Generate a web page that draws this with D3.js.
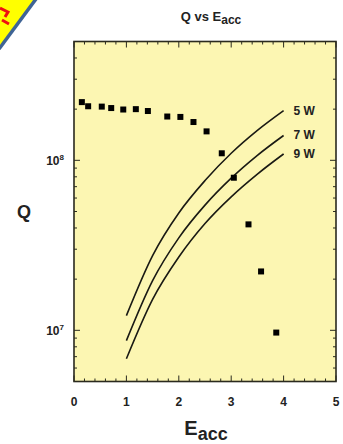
<!DOCTYPE html>
<html><head><meta charset="utf-8">
<script src="https://cdn.jsdelivr.net/npm/d3@7"></script>
<style>html,body{margin:0;padding:0;background:#fff;}svg{display:block;}</style>
</head><body>
<svg id="c" width="343" height="444"></svg>
<script>
// Measured Q vs Eacc
const eacc = [0.15,0.27,0.53,0.71,0.94,1.18,1.41,1.78,2.03,2.28,2.53,2.82,3.05,3.33,3.57,3.86];
const qMeas = [2.2e8,2.08e8,2.07e8,2.03e8,1.99e8,2.0e8,1.95e8,1.81e8,1.80e8,1.68e8,1.48e8,1.10e8,7.9e7,4.2e7,2.22e7,9.7e6];
// Power-limit curves
const curveE = [1,1.5,2,2.5,3,3.5,4];
const q5W = [1.22e7,2.75e7,4.9e7,7.6e7,1.1e8,1.5e8,1.96e8];
const q7W = [8.7e6,1.96e7,3.5e7,5.45e7,7.85e7,1.07e8,1.4e8];
const q9W = [6.8e6,1.52e7,2.7e7,4.25e7,6.1e7,8.3e7,1.09e8];
const curveNames = ["5 W","7 W","9 W"];
const xTicks = [0,1,2,3,4,5];
const yTicks = [1e7,1e8];
const yTickLabels = [["10","7"],["10","8"]];

const svg = d3.select("#c");
const L=74,R=336,T=41.5,B=381.5;
const x = d3.scaleLinear().domain([0,5]).range([L,R]);
const y = d3.scaleLog().domain([5e6,5e8]).range([B,T]);

// corner badge (decorative)
svg.append("polygon").attr("points","0,0 35,0 0,48").attr("fill","#ffff00");
svg.append("path").attr("d","M0,8 L8,12 L5,17 M2,20 L9,24").attr("fill","none").attr("stroke","#ee1111").attr("stroke-width",3);
svg.append("line").attr("x1",36).attr("y1",-1).attr("x2",-1).attr("y2",49).attr("stroke","#3f6495").attr("stroke-width",3.5);

// plot bg
svg.append("rect").attr("x",L).attr("y",T).attr("width",R-L).attr("height",B-T).attr("fill","#fcf6b2");

const tc="#2a2a1e";
// x ticks
const xMinor = d3.range(0,5.001,0.2);
xMinor.forEach(v=>{
  const major = Math.abs(v-Math.round(v))<1e-6;
  const len = major?6:3;
  svg.append("line").attr("x1",x(v)).attr("x2",x(v)).attr("y1",B).attr("y2",B-len).attr("stroke",tc).attr("stroke-width",1);
  svg.append("line").attr("x1",x(v)).attr("x2",x(v)).attr("y1",T).attr("y2",T+len).attr("stroke",tc).attr("stroke-width",1);
});
// y ticks
const yMinor=[];
[1e6,1e7,1e8].forEach(d=>{for(let k=1;k<=9;k++){const v=k*d; if(v>=5e6&&v<=5e8) yMinor.push(v);}});
yMinor.forEach(v=>{
  const major = yTicks.includes(v);
  const len = major?6:3;
  svg.append("line").attr("x1",L).attr("x2",L+len).attr("y1",y(v)).attr("y2",y(v)).attr("stroke",tc).attr("stroke-width",1);
  svg.append("line").attr("x1",R).attr("x2",R-len).attr("y1",y(v)).attr("y2",y(v)).attr("stroke",tc).attr("stroke-width",1);
});
// frame
svg.append("rect").attr("x",L).attr("y",T).attr("width",R-L).attr("height",B-T).attr("fill","none").attr("stroke",tc).attr("stroke-width",1.6);

const ff="Liberation Sans, Arial, sans-serif";
// x tick labels
xTicks.forEach(v=>{
  svg.append("text").attr("x",x(v)).attr("y",406).attr("text-anchor","middle").attr("font-family",ff).attr("font-weight","bold").attr("font-size",12).attr("fill","#222").text(v);
});
// y tick labels
yTicks.forEach((v,i)=>{
  const t = svg.append("text").attr("x",64).attr("y",y(v)+4.5).attr("text-anchor","end").attr("font-family",ff).attr("font-weight","bold").attr("font-size",12).attr("fill","#222");
  t.append("tspan").text(yTickLabels[i][0]);
  t.append("tspan").attr("font-size",8).attr("dy",-5).text(yTickLabels[i][1]);
});

// curves
const line = d3.line().x((d,i)=>x(curveE[i])).y(d=>y(d)).curve(d3.curveMonotoneX);
[q5W,q7W,q9W].forEach((arr,k)=>{
  svg.append("path").attr("d",line(arr)).attr("fill","none").attr("stroke","#1a1a14").attr("stroke-width",1.6);
  svg.append("text").attr("x",x(4)+10).attr("y",y(arr[arr.length-1])+4).attr("font-family",ff).attr("font-weight","bold").attr("font-size",12).attr("fill","#222").text(curveNames[k]);
});

// points
svg.selectAll("rect.pt").data(eacc).enter().append("rect").attr("class","pt")
  .attr("x",(d)=>x(d)-3).attr("y",(d,i)=>y(qMeas[i])-3).attr("width",6).attr("height",6).attr("fill","#000");

// title
const tt = svg.append("text").attr("x",211).attr("y",21).attr("text-anchor","middle").attr("font-family",ff).attr("font-weight","bold").attr("font-size",13).attr("fill","#222");
tt.append("tspan").text("Q vs E");
tt.append("tspan").attr("font-size",12).attr("dy",3).text("acc");

// axis labels
svg.append("text").attr("x",24).attr("y",218).attr("text-anchor","middle").attr("font-family",ff).attr("font-weight","bold").attr("font-size",18).attr("fill","#222").text("Q");
const xl = svg.append("text").attr("x",206).attr("y",435).attr("text-anchor","middle").attr("font-family",ff).attr("font-weight","bold").attr("font-size",20).attr("fill","#222");
xl.append("tspan").text("E");
xl.append("tspan").attr("font-size",18).attr("dy",5).text("acc");
</script>
</body></html>
